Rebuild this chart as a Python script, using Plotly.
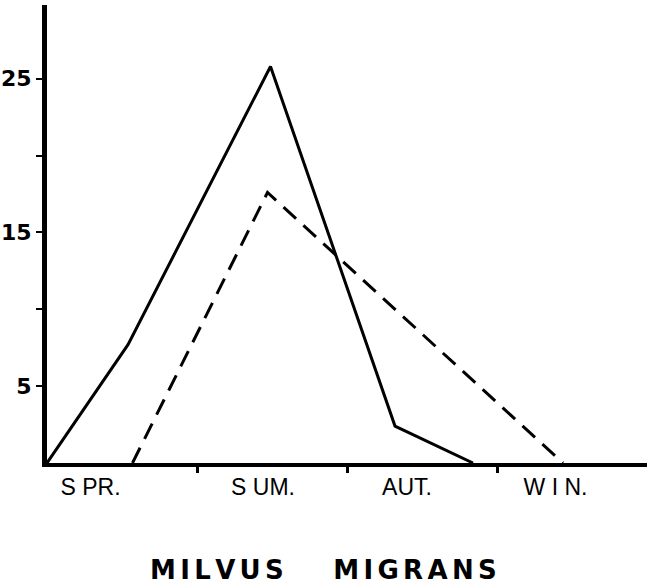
import plotly.graph_objects as go

# Season axis: each season spans one unit (0-1 spring, 1-2 summer, ...)
season_labels = ["S PR.", "S UM.", "AUT.", "W I N."]
season_label_pos = [0.29, 1.44, 2.40, 3.39]
season_bounds = [1, 2, 3]

# Solid series
solid_x = [0.0, 0.54, 1.49, 2.32, 2.84]
solid_y = [0.0, 7.7, 25.8, 2.4, 0.0]

# Dashed series
dashed_x = [0.57, 1.47, 3.44]
dashed_y = [0.0, 17.6, 0.0]

y_tickvals = [5, 10, 15, 20, 25]
y_ticktext = ["5", "", "15", "", "25"]

sp = "\u2006"
title_text = (sp.join("MILVUS") + "\u2003\u2002\u2009\u2009" + sp.join("MIGRANS"))

fig = go.Figure()
fig.add_trace(go.Scatter(x=solid_x, y=solid_y, mode="lines",
                         line=dict(color="black", width=3), showlegend=False,
                         cliponaxis=False))
fig.add_trace(go.Scatter(x=dashed_x, y=dashed_y, mode="lines",
                         line=dict(color="black", width=3, dash="17px,10px"),
                         showlegend=False, cliponaxis=False))

fig.update_layout(
    width=647, height=587,
    margin=dict(l=47, r=0, t=5, b=124, autoexpand=False),
    paper_bgcolor="white", plot_bgcolor="white",
    xaxis=dict(
        range=[0, 4], showgrid=False, zeroline=False, automargin=False,
        showline=True, linecolor="black", linewidth=4,
        tickvals=season_label_pos, ticktext=season_labels, ticks="",
        ticklabelstandoff=0,
        tickfont=dict(family="Liberation Sans, Arial", size=23, color="black"),
        minor=dict(tickvals=season_bounds, ticks="outside", ticklen=6,
                   tickwidth=3, tickcolor="black", showgrid=False),
    ),
    yaxis=dict(
        range=[0, 29.8], showgrid=False, zeroline=False, automargin=False,
        showline=True, linecolor="black", linewidth=5,
        tickvals=y_tickvals, ticktext=y_ticktext,
        ticks="outside", ticklen=6, tickwidth=2, tickcolor="black",
        tickfont=dict(family="DejaVu Sans", size=22, color="black", weight="bold"),
    ),
    annotations=[dict(
        text="<b>" + title_text + "</b>", xref="paper", yref="paper",
        x=0.461, y=-0.2336, xanchor="center", yanchor="middle", showarrow=False,
        font=dict(family="DejaVu Sans", size=26, color="black"),
    )],
)

fig.write_html("out.html", config={"displayModeBar": False},
               post_script="document.body.style.margin='0';")
